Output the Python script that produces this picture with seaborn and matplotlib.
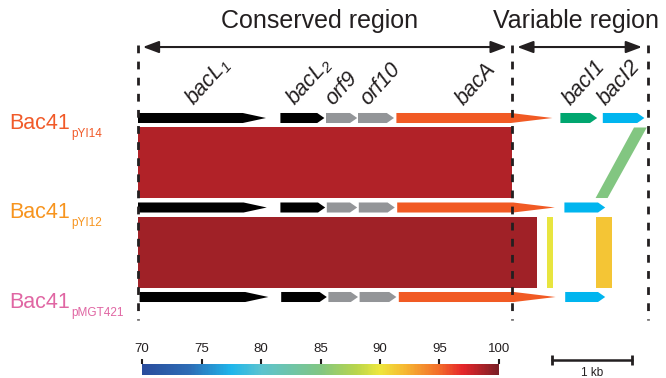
import numpy as np
import matplotlib
matplotlib.use("Agg")
import matplotlib.pyplot as plt
import seaborn as sns
from matplotlib.patches import Polygon
from matplotlib.colors import LinearSegmentedColormap, Normalize
from matplotlib.cm import ScalarMappable

# ---- data (positions in kb from the left edge of the locus) ----
plasmids = ["pYI14", "pYI12", "pMGT421"]
plasmid_colors = ["#F15A29", "#F7941E", "#E066A3"]

gene_names = ["bacL1", "bacL2", "orf9", "orf10", "bacA", "bacI1", "bacI2"]
gene_labels = ["bacL$_1$", "bacL$_2$", "orf9", "orf10", "bacA", "bacI1", "bacI2"]
gene_colors = ["#000000", "#000000", "#939598", "#939598", "#F15A24", "#00A66F", "#00B5EF"]

# per plasmid: gene -> (start, end); genes missing in a plasmid are left out
genes_pYI14 = {"bacL1": (0.0, 1.60), "bacL2": (1.78, 2.33), "orf9": (2.35, 2.74),
               "orf10": (2.75, 3.20), "bacA": (3.23, 5.18), "bacI1": (5.28, 5.74),
               "bacI2": (5.81, 6.33)}
genes_pYI12 = {"bacL1": (0.0, 1.61), "bacL2": (1.78, 2.34), "orf9": (2.36, 2.74),
               "orf10": (2.76, 3.21), "bacA": (3.24, 5.21), "bacI2": (5.33, 5.84)}
genes_pMGT421 = {"bacL1": (0.02, 1.63), "bacL2": (1.79, 2.36), "orf9": (2.38, 2.75),
                 "orf10": (2.77, 3.23), "bacA": (3.26, 5.22), "bacI2": (5.34, 5.84)}
plasmid_genes = [genes_pYI14, genes_pYI12, genes_pMGT421]

# homology blocks between neighbouring tracks
hom_top_track = [0, 0, 1, 1, 1]
hom_top_start = [0.0, 6.20, 0.0, 5.11, 5.73]
hom_top_end = [4.68, 6.36, 4.99, 5.19, 5.93]
hom_bot_start = [0.0, 5.72, 0.0, 5.11, 5.73]
hom_bot_end = [4.68, 5.87, 4.99, 5.19, 5.93]
hom_identity = [98.4, 85.1, 98.9, 89.8, 91.5]

# region borders and colour scale
region_borders = [0.0, 4.68, 6.37]
region_names = ["Conserved region", "Variable region"]
cbar_ticks = [70, 75, 80, 85, 90, 95, 100]
scale_kb = 1.0

# ---- style ----
sns.set_theme(style="white")
plt.rcParams['font.family'] = ['Liberation Sans', 'DejaVu Sans']
plt.rcParams['mathtext.fontset'] = 'custom'
plt.rcParams['mathtext.rm'] = 'Liberation Sans:italic'
plt.rcParams['mathtext.it'] = 'Liberation Sans:italic'
ink = "#231F20"

cmap = LinearSegmentedColormap.from_list("identity", [
    (0.0, "#2A4C9C"), (4 / 30, "#2D6DB6"), (7.5 / 30, "#1FB6EB"), (10 / 30, "#5CC3CF"),
    (15 / 30, "#81C682"), (18 / 30, "#B8D54C"), (20 / 30, "#EEE73D"), (22 / 30, "#F6BA32"),
    (25 / 30, "#F36C2A"), (27 / 30, "#E5252A"), (1.0, "#7A1F26")])
norm = Normalize(70, 100)

fig = plt.figure(figsize=(6.66, 3.78), dpi=100)
ax = fig.add_axes([0, 0, 1, 1])
ax.set_xlim(-138 / 80, 528 / 80)
ax.set_ylim((378 - 118) / 89.5, -118 / 89.5)
ax.axis("off")

half_h = 0.056
gap = 0.05

# homology blocks
for i in range(len(hom_identity)):
    t = hom_top_track[i]
    y0 = t + half_h + gap
    y1 = t + 1 - half_h - gap
    poly = Polygon([(hom_top_start[i], y0), (hom_top_end[i], y0),
                    (hom_bot_end[i], y1), (hom_bot_start[i], y1)],
                   closed=True, facecolor=cmap(norm(hom_identity[i])), edgecolor="none", zorder=1)
    ax.add_patch(poly)

# genes as arrows
head_len = {"bacL1": 0.29, "bacA": 0.52}
for row, genes in enumerate(plasmid_genes):
    for name, (s, e) in genes.items():
        c = gene_colors[gene_names.index(name)]
        hl = head_len.get(name, 0.09)
        pts = [(s, row - half_h), (e - hl, row - half_h), (e, row),
               (e - hl, row + half_h), (s, row + half_h)]
        ax.add_patch(Polygon(pts, closed=True, facecolor=c, edgecolor="none", zorder=3))

# gene names above the first track (last one nudged left to clear the border)
label_nudge = {"bacA": -0.04, "bacI2": -0.12}
for name, lab in zip(gene_names, gene_labels):
    s, e = genes_pYI14[name]
    x = (s + e) / 2 - 0.1 + label_nudge.get(name, 0)
    ax.text(x, -0.13, lab, rotation=48, rotation_mode="anchor",
            ha="left", va="baseline", fontsize=15.5, style="italic", color=ink, zorder=4)

# plasmid labels
for row, (p, c) in enumerate(zip(plasmids, plasmid_colors)):
    t = ax.text(-1.61, row + 0.12, "Bac41", fontsize=15.5, color=c, ha="left", va="baseline")
    ax.annotate(p, xy=(1, 0), xycoords=t, xytext=(1.2, -2.2), textcoords="offset points",
                fontsize=8.5, color=c, ha="left", va="baseline")

# dashed region borders
for x in region_borders:
    ax.plot([x, x], [-0.816, 2.257], color=ink, lw=2.0, dashes=(2.8, 3.0), zorder=5)

# region arrows and titles
arrow_y = -0.793
for (a, b), title in zip([(region_borders[0], region_borders[1]),
                          (region_borders[1], region_borders[2])], region_names):
    ax.annotate("", xy=(a + 0.06, arrow_y), xytext=(b - 0.07, arrow_y),
                arrowprops=dict(arrowstyle="<|-|>,head_length=0.8,head_width=0.3",
                                color=ink, lw=1.5, shrinkA=0, shrinkB=0, mutation_scale=12))
ax.text(2.275, -1.084, region_names[0], fontsize=18, color=ink, ha="center", va="center")
ax.text(5.48, -1.084, region_names[1], fontsize=18, color=ink, ha="center", va="center")

# scale bar
sb_x0 = 5.18
sb_y = (360 - 118) / 89.5
ax.plot([sb_x0, sb_x0 + scale_kb], [sb_y, sb_y], color=ink, lw=1.8)
ax.plot([sb_x0, sb_x0 + scale_kb], [sb_y, sb_y], ls="none", marker="|", ms=7, mew=2, color=ink)
ax.text(sb_x0 + scale_kb / 2, (373 - 118) / 89.5, "1 kb", fontsize=8.5, color=ink,
        ha="center", va="center")

# colour scale
cax = fig.add_axes([142 / 666, 3 / 378, (499 - 142) / 666, 11 / 378])
cb = fig.colorbar(ScalarMappable(norm=norm, cmap=cmap), cax=cax, orientation="horizontal")
cb.outline.set_visible(False)
cax.xaxis.set_ticks_position("top")
cax.set_xticks(cbar_ticks)
cax.tick_params(axis="x", length=3.5, width=1.5, pad=3, labelsize=9.5, colors=ink)

fig.savefig("out.png", dpi=100)
